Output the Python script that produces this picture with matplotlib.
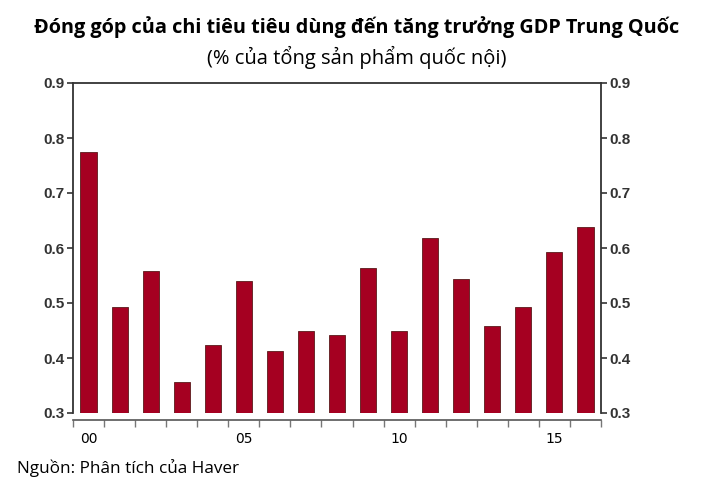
import matplotlib
matplotlib.use("Agg")
import matplotlib.pyplot as plt
import numpy as np

years = list(range(2000, 2017))
values = [0.774, 0.492, 0.559, 0.357, 0.423, 0.540, 0.413, 0.449, 0.441,
          0.563, 0.450, 0.618, 0.543, 0.459, 0.492, 0.592, 0.639]
xtick_labels = {2000: "00", 2005: "05", 2010: "10", 2015: "15"}
y_ticks = [0.3, 0.4, 0.5, 0.6, 0.7, 0.8, 0.9]

title = "Đóng góp của chi tiêu tiêu dùng đến tăng trưởng GDP Trung Quốc"
subtitle = "(% của tổng sản phẩm quốc nội)"
source = "Nguồn: Phân tích của Haver"

fig = plt.figure(figsize=(7.14, 4.87), dpi=100)
ax = fig.add_axes([73/714, 1-413/487, (601-73)/714, (413-83)/487])

x = np.arange(len(years))
ax.bar(x, values, width=0.52, bottom=0, color="#A50021",
       edgecolor="#5a1a1a", linewidth=0.6, zorder=2)

ax.set_xlim(-0.5, len(years) - 0.5)
ax.set_ylim(0.3, 0.9)

dark = "#333333"
ax.set_yticks(y_ticks)
ax.tick_params(axis="y", which="both", direction="out", length=4, width=1.2,
               color=dark, labelsize=11, labelcolor=dark, left=True, right=True,
               labelleft=True, labelright=True, pad=2)
ax.set_yticklabels([f"{v:.1f}" for v in y_ticks], fontweight="bold",
                   family="Liberation Sans", fontsize=11, color=dark)

# x-axis: major ticks at bar centers for labels (invisible), minor at boundaries
ax.set_xticks([years.index(y) for y in xtick_labels])
ax.set_xticks(np.arange(-0.5, len(years)), minor=True)
ax.tick_params(axis="x", which="major", length=0, pad=9)
ax.tick_params(axis="x", which="minor", direction="out", length=5, width=1,
               color="#777777")
ax.set_xticklabels(list(xtick_labels.values()), fontweight="bold",
                   family="Liberation Sans", fontsize=11, color=dark)

for side in ["left", "right", "top"]:
    ax.spines[side].set_color(dark)
    ax.spines[side].set_linewidth(1.3)
ax.spines["bottom"].set_position(("outward", 5))
ax.spines["bottom"].set_color("#555555")
ax.spines["bottom"].set_linewidth(1.2)

fig.text(0.5, 1-27/487, title, ha="center", va="center", fontsize=14.3,
         fontweight="bold", family="Open Sans")
fig.text(0.5, 1-57/487, subtitle, ha="center", va="center", fontsize=14.5,
         family="Open Sans")
fig.text(17/714, 1-468/487, source, ha="left", va="center", fontsize=12.3,
         family="Open Sans")

fig.savefig("out.png", dpi=100)
